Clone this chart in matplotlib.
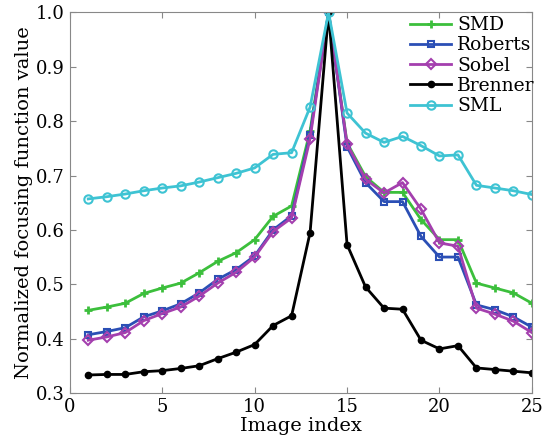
import numpy as np
import matplotlib.pyplot as plt

plt.rcParams['font.family'] = ['DejaVu Serif']

image_index = np.arange(1, 26)

smd = [0.452, 0.458, 0.465, 0.483, 0.493, 0.502, 0.521, 0.542, 0.558, 0.582,
       0.625, 0.644, 0.782, 1.000, 0.760, 0.698, 0.669, 0.669, 0.619, 0.582,
       0.582, 0.502, 0.493, 0.484, 0.465]
roberts = [0.407, 0.413, 0.420, 0.440, 0.451, 0.464, 0.484, 0.509, 0.527, 0.552,
           0.600, 0.626, 0.775, 1.000, 0.753, 0.687, 0.652, 0.652, 0.588, 0.550,
           0.550, 0.462, 0.453, 0.440, 0.421]
sobel = [0.397, 0.403, 0.411, 0.433, 0.446, 0.458, 0.478, 0.502, 0.522, 0.550,
         0.597, 0.622, 0.768, 1.000, 0.758, 0.693, 0.668, 0.687, 0.638, 0.576,
         0.570, 0.456, 0.445, 0.432, 0.411]
brenner = [0.333, 0.334, 0.334, 0.339, 0.341, 0.345, 0.350, 0.363, 0.375, 0.389,
           0.424, 0.442, 0.595, 1.000, 0.573, 0.495, 0.456, 0.454, 0.397, 0.381,
           0.387, 0.346, 0.343, 0.340, 0.337]
sml = [0.657, 0.661, 0.666, 0.672, 0.677, 0.681, 0.688, 0.696, 0.704, 0.714,
       0.739, 0.742, 0.826, 1.000, 0.815, 0.778, 0.761, 0.772, 0.755, 0.736,
       0.738, 0.682, 0.677, 0.672, 0.665]

fig = plt.figure(figsize=(5.45, 4.46), dpi=100)
ax = fig.add_axes([0.128, 0.119, 0.848, 0.853])

ax.plot(image_index, smd, color='#3cbf3c', lw=2, marker='+', ms=5.5, mew=2,
        label='SMD')
ax.plot(image_index, roberts, color='#2b4fb5', lw=2, marker='s', ms=5,
        mfc='none', mew=1.5, label='Roberts')
ax.plot(image_index, sobel, color='#a43fae', lw=2, marker='D', ms=5.5,
        mfc='none', mew=1.5, label='Sobel')
ax.plot(image_index, brenner, color='black', lw=2, marker='o', ms=4.5,
        label='Brenner')
ax.plot(image_index, sml, color='#3ec3d3', lw=2, marker='o', ms=6,
        mfc='none', mew=1.5, label='SML')

ax.set_xlim(0, 25)
ax.set_ylim(0.3, 1.0)
ax.set_xticks([0, 5, 10, 15, 20, 25])
ax.set_yticks(np.arange(0.3, 1.01, 0.1))
ax.yaxis.set_major_formatter(plt.FormatStrFormatter('%.1f'))
ax.tick_params(direction='in', length=4, color='#888888', labelsize=13,
               top=True, right=True)
for s in ax.spines.values():
    s.set_color('#888888')

ax.set_xlabel('Image index', fontsize=14, labelpad=1)
ax.set_ylabel('Normalized focusing function value', fontsize=14, labelpad=2)

ax.legend(loc='upper right', bbox_to_anchor=(1.03, 1.02), frameon=False,
          fontsize=13.5, handlelength=2.2, handletextpad=0.3, labelspacing=0.12,
          borderaxespad=0.2)

fig.savefig('out.png', dpi=100)
